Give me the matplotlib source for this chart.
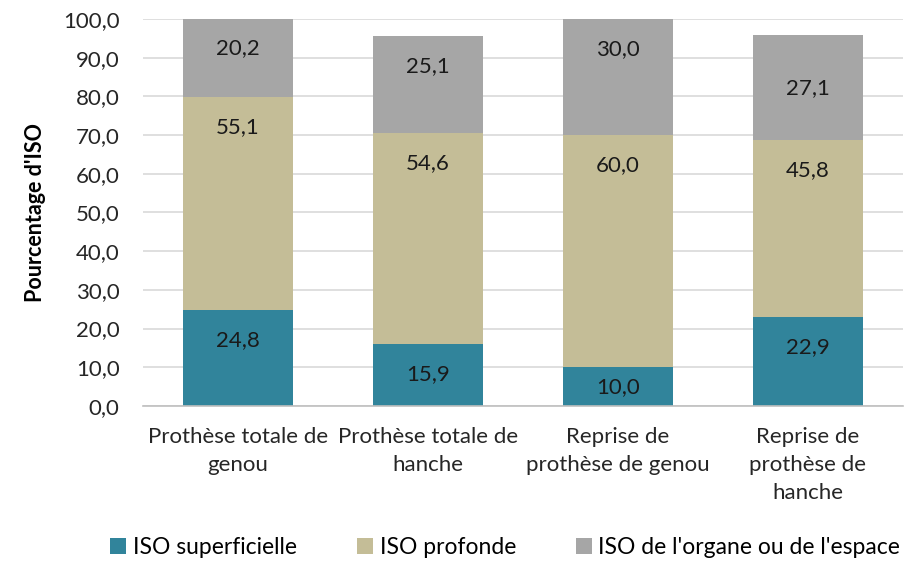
import numpy as np
import matplotlib.pyplot as plt

plt.rcParams['font.family'] = ['Lato', 'DejaVu Sans']

categories = ['Prothèse totale de\ngenou', 'Prothèse totale de\nhanche',
              'Reprise de\nprothèse de genou', 'Reprise de\nprothèse de\nhanche']
superficielle = [24.8, 15.9, 10.0, 22.9]
profonde = [55.1, 54.6, 60.0, 45.8]
organe = [20.2, 25.1, 30.0, 27.1]
series_names = ['ISO superficielle', 'ISO profonde', "ISO de l'organe ou de l'espace"]
colors = ['#31849B', '#C4BD97', '#A6A6A6']
# labels centred in their segment instead of near the top (series, category)
centred = {(2, 3)}

fig = plt.figure(figsize=(9.12, 5.61), dpi=100)
ax = fig.add_axes([0.157, 0.2763, 0.833, 0.690])

X = np.arange(len(categories))
width = 0.58
bottom = np.zeros(len(categories))
px = 72.0 / fig.dpi
for k, (vals, name, c) in enumerate(zip([superficielle, profonde, organe], series_names, colors)):
    vals = np.array(vals)
    ax.bar(X, vals, width, bottom=bottom, color=c, label=name, zorder=2)
    for i, (x, b, v) in enumerate(zip(X, bottom, vals)):
        seg_px = v * 387 / 100.0
        off = seg_px / 2 if (k, i) in centred else min(30, seg_px / 2)
        ax.annotate('{:.1f}'.format(v).replace('.', ','), (x, b + v),
                    xytext=(0, -off * px), textcoords='offset points',
                    ha='center', va='center', fontsize=16, color='#1a1a1a', zorder=3)
    bottom += vals

ax.set_xlim(-0.5, 3.5)
ax.set_ylim(0, 100)
yt = np.arange(0, 101, 10)
ax.set_yticks(yt)
ax.set_yticklabels(['{:.1f}'.format(v).replace('.', ',') for v in yt])
ax.set_xticks(X)
ax.set_xticklabels(categories, linespacing=1.5)
ax.tick_params(axis='both', length=0, labelsize=16, colors='#262626')
ax.tick_params(axis='x', pad=15)
ax.tick_params(axis='y', pad=17)
ax.grid(axis='y', color='#D9D9D9', linewidth=1.2, zorder=0)
for s in ['top', 'right', 'left']:
    ax.spines[s].set_visible(False)
ax.spines['bottom'].set_color('#BFBFBF')
ax.spines['bottom'].set_linewidth(1.2)
ax.set_ylabel("Pourcentage d'ISO", fontsize=15.5, fontweight='bold', labelpad=12)

fig.legend(loc='center', bbox_to_anchor=(0.554, 0.024), ncol=3, frameon=False,
           fontsize=16.5, handlelength=0.7, handleheight=0.7, handletextpad=0.3,
           columnspacing=2.6)

fig.savefig('out.png', dpi=100)
